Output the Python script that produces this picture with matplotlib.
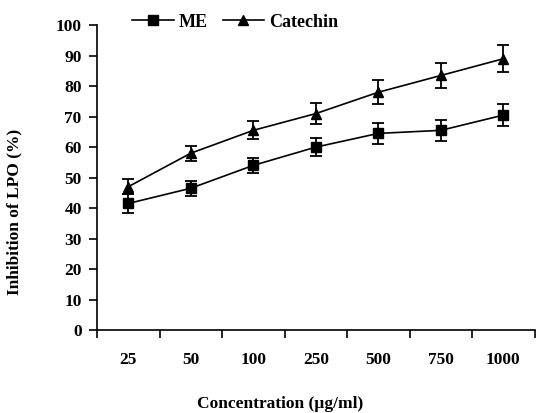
import matplotlib
matplotlib.use("Agg")
import matplotlib.pyplot as plt
from matplotlib.lines import Line2D
import numpy as np

categories = ["25", "50", "100", "250", "500", "750", "1000"]
me_values = [41.5, 46.5, 54.0, 60.0, 64.5, 65.5, 70.5]
me_errors = [3.0, 2.5, 2.5, 3.0, 3.5, 3.5, 3.5]
cat_values = [47.0, 58.0, 65.5, 71.0, 78.0, 83.5, 89.0]
cat_errors = [2.5, 2.5, 3.0, 3.5, 4.0, 4.0, 4.5]
yticks = [0, 10, 20, 30, 40, 50, 60, 70, 80, 90, 100]

plt.rcParams['font.family'] = ['Liberation Serif', 'DejaVu Serif']
plt.rcParams['font.weight'] = 'bold'

fig = plt.figure(figsize=(5.37, 4.13), dpi=100)
ax = fig.add_axes([0.1806, 0.201, 0.815, 0.738])

x = np.arange(1, len(categories) + 1)
ax.errorbar(x, me_values, yerr=me_errors, color='black', marker='s', markersize=7,
            linewidth=1.2, capsize=4, elinewidth=1.3, capthick=1.3)
ax.errorbar(x, cat_values, yerr=cat_errors, color='black', marker='^', markersize=7,
            linewidth=1.2, capsize=4, elinewidth=1.3, capthick=1.3)

ax.set_xlim(0.5, 7.5)
ax.set_ylim(0, 100)
ax.set_yticks(yticks)
ax.set_yticklabels([str(v) for v in yticks], fontsize=12.5, fontweight='bold')
ax.set_xticks(x)
ax.set_xticklabels(categories, fontsize=12.5, fontweight='bold')
ax.tick_params(axis='x', which='major', length=0, pad=16)
ax.set_xticks(np.arange(0.5, 7.6, 1.0), minor=True)
ax.tick_params(axis='x', which='minor', length=6, width=1.2, direction='out')
ax.tick_params(axis='y', length=6, width=1.2, direction='out', pad=5)
for s in ['top', 'right']:
    ax.spines[s].set_visible(False)
for s in ['left', 'bottom']:
    ax.spines[s].set_linewidth(1.2)

ax.set_ylabel('Inhibition of LPO (%)', fontsize=12.5, fontweight='bold')
ax.yaxis.set_label_coords(-0.171, 0.387)
ax.set_xlabel('Concentration (µg/ml)', fontsize=12.5, fontweight='bold')
ax.xaxis.set_label_coords(0.418, -0.215)

handles = [Line2D([], [], color='black', marker='s', markersize=7, linewidth=1.2),
           Line2D([], [], color='black', marker='^', markersize=7, linewidth=1.2)]
ax.legend(handles, ['ME', 'Catechin'], loc='center left', bbox_to_anchor=(0.08, 1.01),
          ncol=2, frameon=False, fontsize=13, handlelength=2.3, columnspacing=0.8,
          handletextpad=0.3, borderaxespad=0, borderpad=0)

fig.savefig('out.png', dpi=100)
